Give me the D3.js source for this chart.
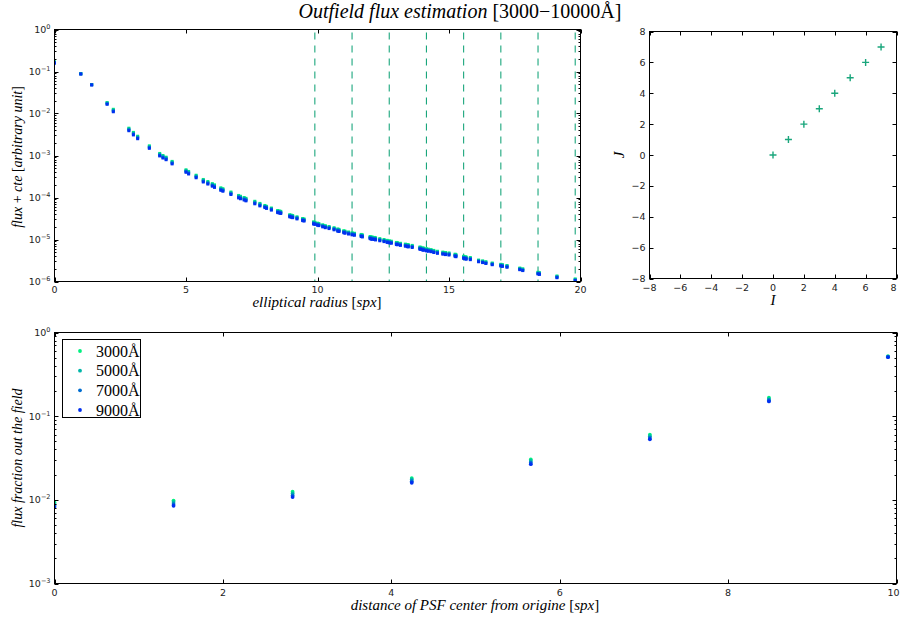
<!DOCTYPE html>
<html><head><meta charset="utf-8">
<script src="https://cdn.jsdelivr.net/npm/d3@7"></script>
<style>body{margin:0;background:#fff} svg{display:block}</style>
</head><body><svg id="c" width="901" height="621"></svg>
<script>
// ---------- DATA ----------
const wavelengths = ["3000Å","5000Å","7000Å","9000Å"];
const seriesColors = ["#00f080","#00b6a8","#006dd0","#0030f0"];

// top-left : radial profile
const radius = [0,1,1.414,2,2.236,2.828,3,3.162,3.606,4,
4.123,4.243,4.472,5,5.099,5.385,5.657,5.831,6,6.083,
6.325,6.403,6.708,7,7.071,7.211,7.280,7.616,7.810,8,
8.062,8.246,8.485,8.544,8.602,8.944,9,9.055,9.220,9.434,
9.487,9.849,9.899,10,10.050,10.198,10.296,10.440,10.630,10.770,
10.817,11,11.045,11.180,11.314,11.402,11.662,11.705,12,12.042,
12.083,12.166,12.207,12.369,12.530,12.649,12.728,12.806,13,13.038,
13.153,13.342,13.416,13.454,13.601,13.892,13.928,14,14.036,14.142,
14.213,14.318,14.422,14.560,14.765,14.866,15,15.232,15.264,15.556,
15.620,15.652,15.811,16.125,16.279,16.401,16.643,16.971,17.029,17.205,
17.692,17.804,18.385,18.439,19.105,19.799];
const flux3000 = [1.70e-1,8.91e-2,4.90e-2,1.82e-2,1.26e-2,4.47e-3,3.55e-3,2.88e-3,1.70e-3,1.12e-3,
1.00e-3,9.12e-4,7.24e-4,4.57e-4,4.17e-4,3.39e-4,2.69e-4,2.40e-4,2.14e-4,2.00e-4,
1.70e-4,1.62e-4,1.35e-4,1.12e-4,1.07e-4,1.00e-4,9.55e-5,8.13e-5,7.24e-5,6.46e-5,
6.17e-5,5.62e-5,4.90e-5,4.79e-5,4.68e-5,3.89e-5,3.80e-5,3.72e-5,3.47e-5,3.16e-5,
3.09e-5,2.63e-5,2.57e-5,2.45e-5,2.40e-5,2.24e-5,2.14e-5,2.04e-5,1.91e-5,1.78e-5,
1.74e-5,1.62e-5,1.58e-5,1.51e-5,1.45e-5,1.41e-5,1.32e-5,1.29e-5,1.18e-5,1.15e-5,
1.14e-5,1.12e-5,1.10e-5,1.05e-5,1.00e-5,9.55e-6,9.33e-6,9.12e-6,8.51e-6,8.42e-6,
8.13e-6,7.76e-6,7.59e-6,7.50e-6,7.24e-6,6.61e-6,6.51e-6,6.31e-6,6.22e-6,6.03e-6,
5.89e-6,5.75e-6,5.50e-6,5.25e-6,5.01e-6,4.90e-6,4.79e-6,4.47e-6,4.37e-6,3.98e-6,
3.89e-6,3.82e-6,3.72e-6,3.24e-6,3.09e-6,2.95e-6,2.75e-6,2.57e-6,2.51e-6,2.40e-6,
2.09e-6,2.00e-6,1.66e-6,1.62e-6,1.35e-6,1.15e-6];
const flux5000 = [1.66e-1,8.91e-2,4.90e-2,1.78e-2,1.20e-2,4.27e-3,3.39e-3,2.75e-3,1.62e-3,1.07e-3,
9.55e-4,8.71e-4,6.92e-4,4.37e-4,3.98e-4,3.24e-4,2.57e-4,2.29e-4,2.04e-4,1.91e-4,
1.62e-4,1.55e-4,1.29e-4,1.07e-4,1.02e-4,9.55e-5,9.12e-5,7.76e-5,6.92e-5,6.17e-5,
5.89e-5,5.37e-5,4.68e-5,4.57e-5,4.47e-5,3.72e-5,3.63e-5,3.55e-5,3.31e-5,3.02e-5,
2.95e-5,2.51e-5,2.45e-5,2.34e-5,2.29e-5,2.14e-5,2.04e-5,1.95e-5,1.82e-5,1.70e-5,
1.66e-5,1.55e-5,1.51e-5,1.45e-5,1.38e-5,1.35e-5,1.26e-5,1.23e-5,1.12e-5,1.10e-5,
1.09e-5,1.07e-5,1.05e-5,1.00e-5,9.55e-6,9.12e-6,8.91e-6,8.71e-6,8.13e-6,8.05e-6,
7.76e-6,7.41e-6,7.24e-6,7.15e-6,6.92e-6,6.31e-6,6.22e-6,6.03e-6,5.95e-6,5.75e-6,
5.62e-6,5.50e-6,5.25e-6,5.01e-6,4.79e-6,4.68e-6,4.57e-6,4.27e-6,4.17e-6,3.80e-6,
3.72e-6,3.65e-6,3.55e-6,3.16e-6,3.02e-6,2.88e-6,2.69e-6,2.51e-6,2.45e-6,2.34e-6,
2.04e-6,1.95e-6,1.62e-6,1.58e-6,1.32e-6,1.12e-6];
const flux7000 = [1.62e-1,8.71e-2,4.79e-2,1.70e-2,1.15e-2,4.07e-3,3.24e-3,2.63e-3,1.55e-3,1.02e-3,
9.12e-4,8.32e-4,6.61e-4,4.17e-4,3.80e-4,3.09e-4,2.45e-4,2.19e-4,1.95e-4,1.82e-4,
1.55e-4,1.48e-4,1.23e-4,1.02e-4,9.77e-5,9.12e-5,8.71e-5,7.41e-5,6.61e-5,6.03e-5,
5.75e-5,5.25e-5,4.57e-5,4.47e-5,4.37e-5,3.63e-5,3.55e-5,3.47e-5,3.24e-5,2.95e-5,
2.88e-5,2.45e-5,2.40e-5,2.29e-5,2.24e-5,2.09e-5,2.00e-5,1.91e-5,1.78e-5,1.66e-5,
1.62e-5,1.51e-5,1.48e-5,1.41e-5,1.35e-5,1.32e-5,1.23e-5,1.20e-5,1.10e-5,1.07e-5,
1.06e-5,1.05e-5,1.02e-5,9.77e-6,9.33e-6,8.91e-6,8.71e-6,8.51e-6,7.94e-6,7.85e-6,
7.59e-6,7.24e-6,7.08e-6,7.00e-6,6.76e-6,6.17e-6,6.08e-6,5.89e-6,5.80e-6,5.62e-6,
5.50e-6,5.37e-6,5.13e-6,4.90e-6,4.68e-6,4.57e-6,4.47e-6,4.17e-6,4.07e-6,3.72e-6,
3.63e-6,3.56e-6,3.47e-6,3.02e-6,2.88e-6,2.75e-6,2.57e-6,2.40e-6,2.34e-6,2.24e-6,
1.95e-6,1.86e-6,1.55e-6,1.51e-6,1.26e-6,1.07e-6];
const flux9000 = [1.58e-1,8.71e-2,4.79e-2,1.66e-2,1.10e-2,3.89e-3,3.09e-3,2.51e-3,1.48e-3,9.77e-4,
8.71e-4,7.94e-4,6.31e-4,3.98e-4,3.63e-4,2.95e-4,2.34e-4,2.09e-4,1.86e-4,1.74e-4,
1.48e-4,1.41e-4,1.18e-4,9.77e-5,9.33e-5,8.71e-5,8.32e-5,7.08e-5,6.31e-5,5.75e-5,
5.50e-5,5.01e-5,4.37e-5,4.27e-5,4.17e-5,3.47e-5,3.39e-5,3.31e-5,3.09e-5,2.82e-5,
2.75e-5,2.34e-5,2.29e-5,2.19e-5,2.14e-5,2.00e-5,1.91e-5,1.82e-5,1.70e-5,1.58e-5,
1.55e-5,1.45e-5,1.41e-5,1.35e-5,1.29e-5,1.26e-5,1.18e-5,1.15e-5,1.05e-5,1.02e-5,
1.01e-5,1.00e-5,9.77e-6,9.33e-6,8.91e-6,8.51e-6,8.32e-6,8.13e-6,7.59e-6,7.50e-6,
7.24e-6,6.92e-6,6.76e-6,6.68e-6,6.46e-6,5.89e-6,5.80e-6,5.62e-6,5.55e-6,5.37e-6,
5.25e-6,5.13e-6,4.90e-6,4.68e-6,4.47e-6,4.37e-6,4.27e-6,3.98e-6,3.89e-6,3.55e-6,
3.47e-6,3.40e-6,3.31e-6,2.95e-6,2.82e-6,2.69e-6,2.51e-6,2.34e-6,2.29e-6,2.19e-6,
1.91e-6,1.82e-6,1.51e-6,1.48e-6,1.23e-6,1.05e-6];
const fieldEdges = [9.899,11.314,12.728,14.142,15.556,16.971,18.385,19.799];

// top-right : PSF centers
const centerI = [0,1,2,3,4,5,6,7];
const centerJ = [0,1,2,3,4,5,6,7];

// bottom : outfield fraction
const distance = [0,1.414,2.828,4.243,5.657,7.071,8.485,9.899];
const frac3000 = [9.3e-3,9.8e-3,1.25e-2,1.82e-2,3.04e-2,6.0e-2,1.66e-1,5.20e-1];
const frac5000 = [8.9e-3,9.4e-3,1.19e-2,1.75e-2,2.91e-2,5.75e-2,1.60e-1,5.15e-1];
const frac7000 = [8.5e-3,8.9e-3,1.13e-2,1.67e-2,2.78e-2,5.5e-2,1.55e-1,5.10e-1];
const frac9000 = [8.2e-3,8.5e-3,1.08e-2,1.60e-2,2.67e-2,5.3e-2,1.50e-1,5.07e-1];

const xTicksTL = [0,5,10,15,20];
const xTicksTR = [-8,-6,-4,-2,0,2,4,6,8];
const yTicksTR = [-8,-6,-4,-2,0,2,4,6,8];
const xTicksB = [0,2,4,6,8,10];

// ---------- DRAW ----------
const svg = d3.select("#c");
const tickFont = "'DejaVu Sans', sans-serif";
const serif = "'Liberation Serif', 'DejaVu Serif', serif";
const markColor = "#1aa67c";

const TL = {x0:54.5, x1:580.5, y0:29.5, y1:281.5};
const TR = {x0:649.5, x1:896.5, y0:31.5, y1:278.5};
const BT = {x0:54.5, x1:896.5, y0:332.5, y1:583.5};

function fmtLin(v){ return (v<0?"\u2212":"")+Math.abs(v); }

function clip(id, b){
  svg.append("clipPath").attr("id",id).append("rect")
    .attr("x",b.x0).attr("y",b.y0).attr("width",b.x1-b.x0).attr("height",b.y1-b.y0);
}
function frame(b){
  svg.append("rect").attr("x",b.x0).attr("y",b.y0).attr("width",b.x1-b.x0).attr("height",b.y1-b.y0)
    .attr("fill","none").attr("stroke","#000").attr("stroke-width",1);
}
function tick(g,x1,y1,x2,y2){
  g.append("line").attr("x1",x1).attr("y1",y1).attr("x2",x2).attr("y2",y2).attr("stroke","#000").attr("stroke-width",1);
}
function xLinear(b, x, ticks, dy){
  const g = svg.append("g");
  ticks.forEach(t=>{
    const px = Math.round(x(t))+0.5;
    tick(g,px,b.y1,px,b.y1-4); tick(g,px,b.y0,px,b.y0+4);
    const lx = Math.min(x(t), 901 - 7.5);
    g.append("text").attr("x",lx).attr("y",b.y1+dy).attr("text-anchor","middle")
      .attr("font-family",tickFont).attr("font-size",9.5).attr("fill","#222").text(fmtLin(t));
  });
}
function yLinear(b, y, ticks){
  const g = svg.append("g");
  ticks.forEach(t=>{
    const py = Math.round(y(t))+0.5;
    tick(g,b.x0,py,b.x0+4,py); tick(g,b.x1,py,b.x1-4,py);
    g.append("text").attr("x",b.x0-4).attr("y",y(t)+3.5).attr("text-anchor","end")
      .attr("font-family",tickFont).attr("font-size",9.5).attr("fill","#222").text(fmtLin(t));
  });
}
function yLog(b, y, dmin, dmax){
  const g = svg.append("g");
  for(let d=dmin; d<=dmax; d++){
    const v = Math.pow(10,d);
    const py = Math.round(y(v))+0.5;
    tick(g,b.x0,py,b.x0+4,py); tick(g,b.x1,py,b.x1-4,py);
    const t = g.append("text").attr("x",b.x0-4).attr("y",y(v)+3.5).attr("text-anchor","end")
      .attr("font-family",tickFont).attr("font-size",9.5).attr("fill","#222");
    t.append("tspan").text("10");
    t.append("tspan").attr("dy",-4).attr("font-size",6.5).text(d<0?"\u2212"+(-d):String(d));
    if(d<dmax){
      for(let m=2;m<=9;m++){
        const pm = Math.round(y(m*v))+0.5;
        tick(g,b.x0,pm,b.x0+2,pm); tick(g,b.x1,pm,b.x1-2,pm);
      }
    }
  }
}
function mathLabel(parts, x, y, size, rotate){
  const t = svg.append("text").attr("font-family",serif).attr("font-size",size).attr("fill","#000")
    .attr("text-anchor","middle");
  if(rotate){ t.attr("transform",`translate(${x},${y}) rotate(-90)`); }
  else { t.attr("x",x).attr("y",y); }
  parts.forEach(p=>{ t.append("tspan").attr("font-style",p[1]?"italic":"normal").text(p[0]); });
  return t;
}

// Title
mathLabel([["Outfield flux estimation ",true],["[3000\u221210000\u00c5]",false]], 460, 18, 20, false);

// ---- top-left ----
const xTL = d3.scaleLinear().domain([0,20]).range([TL.x0,TL.x1]);
const yTL = d3.scaleLog().domain([1e-6,1]).range([TL.y1,TL.y0]);
clip("clipTL",TL);
const gTL = svg.append("g").attr("clip-path","url(#clipTL)");
gTL.selectAll("line.edge").data(fieldEdges).enter().append("line")
  .attr("x1",d=>xTL(d)).attr("x2",d=>xTL(d)).attr("y1",TL.y0+3).attr("y2",TL.y1)
  .attr("stroke",markColor).attr("stroke-width",1.1).attr("stroke-dasharray","7,6");
const profiles = [flux3000,flux5000,flux7000,flux9000];
profiles.forEach((ser,si)=>{
  gTL.append("g").selectAll("rect").data(radius.map((r,i)=>[r,ser[i]])).enter().append("rect")
    .attr("x",d=>xTL(d[0])-1.5).attr("y",d=>yTL(d[1])-1.5).attr("width",3).attr("height",3)
    .attr("fill",seriesColors[si]);
});
frame(TL);
xLinear(TL,xTL,xTicksTL,11);
yLog(TL,yTL,-6,0);
mathLabel([["elliptical radius ",true],["[",false],["spx",true],["]",false]], 317, 307, 15, false);
mathLabel([["flux",true],[" + ",false],["cte ",true],["[",false],["arbitrary unit",true],["]",false]], 22, 157, 14, true);

// ---- top-right ----
const xTR = d3.scaleLinear().domain([-8,8]).range([TR.x0,TR.x1]);
const yTR = d3.scaleLinear().domain([-8,8]).range([TR.y1,TR.y0]);
svg.append("g").selectAll("path").data(centerI.map((v,i)=>[v,centerJ[i]])).enter().append("path")
  .attr("d",d=>`M${xTR(d[0])-3.5},${yTR(d[1])}H${xTR(d[0])+3.5}M${xTR(d[0])},${yTR(d[1])-3.5}V${yTR(d[1])+3.5}`)
  .attr("stroke",markColor).attr("stroke-width",1.4).attr("fill","none");
frame(TR);
xLinear(TR,xTR,xTicksTR,12);
yLinear(TR,yTR,yTicksTR);
mathLabel([["I",true]], 773, 305, 15, false);
mathLabel([["J",true]], 624, 155, 15, true);

// ---- bottom ----
const xB = d3.scaleLinear().domain([0,10]).range([BT.x0,BT.x1]);
const yB = d3.scaleLog().domain([1e-3,1]).range([BT.y1,BT.y0]);
clip("clipB",BT);
const gB = svg.append("g").attr("clip-path","url(#clipB)");
[frac3000,frac5000,frac7000,frac9000].forEach((ser,si)=>{
  gB.append("g").selectAll("circle").data(distance.map((x,i)=>[x,ser[i]])).enter().append("circle")
    .attr("cx",d=>xB(d[0])).attr("cy",d=>yB(d[1])).attr("r",1.9).attr("fill",seriesColors[si]);
});
frame(BT);
xLinear(BT,xB,xTicksB,12);
yLog(BT,yB,-3,0);
mathLabel([["distance of PSF center from origine ",true],["[",false],["spx",true],["]",false]], 475, 610, 15, false);
mathLabel([["flux fraction out the field",true]], 22, 458, 14, true);

// legend
const lg = svg.append("g");
lg.append("rect").attr("x",62.5).attr("y",339.5).attr("width",78).attr("height",78)
  .attr("fill","#fff").attr("stroke","#000").attr("stroke-width",1);
const legY = d3.scalePoint().domain(wavelengths).range([351,410]);
wavelengths.forEach((w,i)=>{
  lg.append("circle").attr("cx",80).attr("cy",legY(w)).attr("r",1.9).attr("fill",seriesColors[i]);
  lg.append("text").attr("x",96).attr("y",legY(w)+5.5).attr("font-family",serif).attr("font-size",16)
    .attr("fill","#000").text(w);
});
</script></body></html>
